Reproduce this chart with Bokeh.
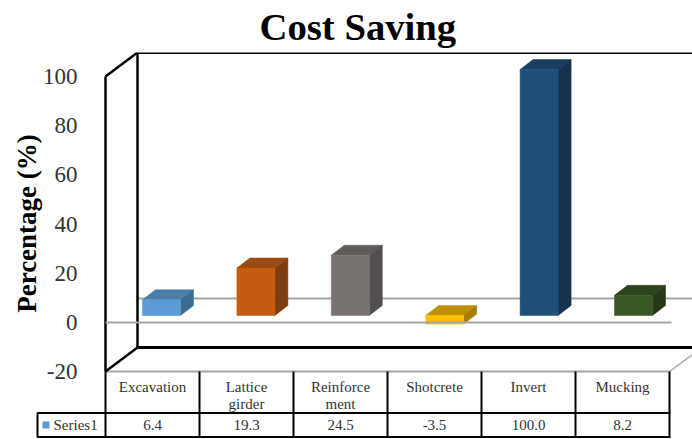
import math
from bokeh.plotting import figure
from bokeh.models import FixedTicker, Range1d
from bokeh.core.properties import value
from bokeh.embed import file_html
from bokeh.resources import INLINE

categories = ["Excavation", "Lattice\ngirder", "Reinforce\nment", "Shotcrete", "Invert", "Mucking"]
savings = [6.4, 19.3, 24.5, -3.5, 100.0, 8.2]
value_labels = ["6.4", "19.3", "24.5", "-3.5", "100.0", "8.2"]
front_colors = ["#5b9bd5", "#c55a11", "#787370", "#ffc000", "#1f4e79", "#385723"]
top_colors = ["#4a7da8", "#9a4a12", "#5f5b59", "#bf9000", "#193e60", "#2c431c"]
side_colors = ["#3c6a90", "#7e3d0e", "#524f4e", "#a37d05", "#16324e", "#263a17"]
y_ticks = [-20, 0, 20, 40, 60, 80, 100]
series_name = "Series1"
y_title = "Percentage (%)"

PX_X, PX_Y = 94.0, 2.46      # px per category, px per percent
X0, Y0 = 105.0, 322.0        # page px of category 0 / value 0 on the front plane
def ux(px): return (px - X0) / PX_X
def uy(px): return (Y0 - px) / PX_Y

FONT = "Liberation Serif"
p = figure(width=692, height=439, output_backend="svg", toolbar_location=None,
           x_axis_location=None, min_border_top=52, min_border_bottom=0,
           min_border_left=0, min_border_right=0,
           x_range=Range1d(ux(0), ux(692)), y_range=Range1d(uy(439), uy(52)))
p.outline_line_color = None
p.grid.visible = False
p.background_fill_color = "white"

p.title.text = "Cost Saving"
p.title.text_font = FONT
p.title.text_font_style = "bold"
p.title.text_font_size = "38.7px"
p.title.text_color = "black"
p.title.align = "left"
p.title.vertical_align = "top"
p.title.offset = 259
p.title.standoff = 6

ax = p.yaxis[0]
ax.fixed_location = 0
ax.ticker = FixedTicker(ticks=y_ticks)
ax.major_label_overrides = {-20: "-20"}
ax.axis_line_color = None
ax.major_tick_line_color = None
ax.minor_tick_line_color = None
ax.major_label_text_font = FONT
ax.major_label_text_font_size = "23px"
ax.major_label_text_color = "#333333"
ax.major_label_standoff = 22

p.text(x=[ux(26)], y=[uy(223)], text=[y_title], angle=math.pi / 2, text_font=value(FONT),
       text_font_style="bold", text_font_size="27px", text_color="black",
       text_align="center", text_baseline="middle")

def seg(x0, y0, x1, y1, color, w):
    p.line([ux(x0), ux(x1)], [uy(y0), uy(y1)], line_color=color, line_width=w)

GRAY = "#a6a6a6"
# back gridline, floor, right floor edge
seg(137, 298, 692, 298, GRAY, 2)
seg(105, 371, 669, 371, GRAY, 2)
seg(669, 371, 692, 354, GRAY, 1.5)
# walls
seg(137, 52, 692, 52, "black", 3)
seg(137, 52, 137, 347, "black", 2.5)
seg(137, 347, 692, 347, "black", 3)
seg(105, 76, 105, 371, "black", 2.5)
seg(105, 76, 137, 52, "black", 2.5)
seg(105, 371, 137, 347, "black", 2.5)

# bars (3-D boxes)
BAR_OFF, BAR_W = 37 / PX_X, 38 / PX_X
BAR_STEP = 94.4 / PX_X
BASE = 7 / PX_Y          # baseline shift of the bar plane
DX, DY = 13 / PX_X, 10 / PX_Y
for i, v in enumerate(savings):
    l = i * BAR_STEP + BAR_OFF
    r = l + BAR_W
    t = max(v, 0) + BASE
    b = min(v, 0) + BASE
    p.patch([l, r, r + DX, l + DX], [t, t, t + DY, t + DY], fill_color=top_colors[i], line_color=top_colors[i], line_width=0.5)
    p.patch([r, r + DX, r + DX, r], [t, t + DY, b + DY, b], fill_color=side_colors[i], line_color=side_colors[i], line_width=0.5)
    p.quad(left=l, right=r, top=t, bottom=b, fill_color=front_colors[i], line_color=front_colors[i], line_width=0.5)

# front zero gridline
seg(105, 322, 671, 322, GRAY, 2)

# data table
for c in range(7):
    seg(X0 + c * PX_X, 371, X0 + c * PX_X, 437, "black", 2)
seg(37, 412.5, 670, 412.5, "black", 2)
seg(37, 436.5, 670, 436.5, "black", 2)
seg(37, 412, 37, 437, "black", 2)

centers = [i + 0.5 for i in range(6)]
p.text(x=centers, y=[uy(378)] * 6, text=categories, text_font=value(FONT), text_font_size="15px",
       text_color="#333333", text_align="center", text_baseline="top", text_line_height=1.1)
p.text(x=centers, y=[uy(424.5)] * 6, text=value_labels, text_font=value(FONT), text_font_size="15px",
       text_color="#333333", text_align="center", text_baseline="middle")
p.text(x=[ux(53)], y=[uy(424.5)], text=[series_name], text_font=value(FONT), text_font_size="15px",
       text_color="#333333", text_align="left", text_baseline="middle")
p.quad(left=ux(42), right=ux(49), top=uy(421), bottom=uy(428), fill_color=front_colors[0], line_color=None)

open("out.html", "w").write(file_html(p, INLINE))
